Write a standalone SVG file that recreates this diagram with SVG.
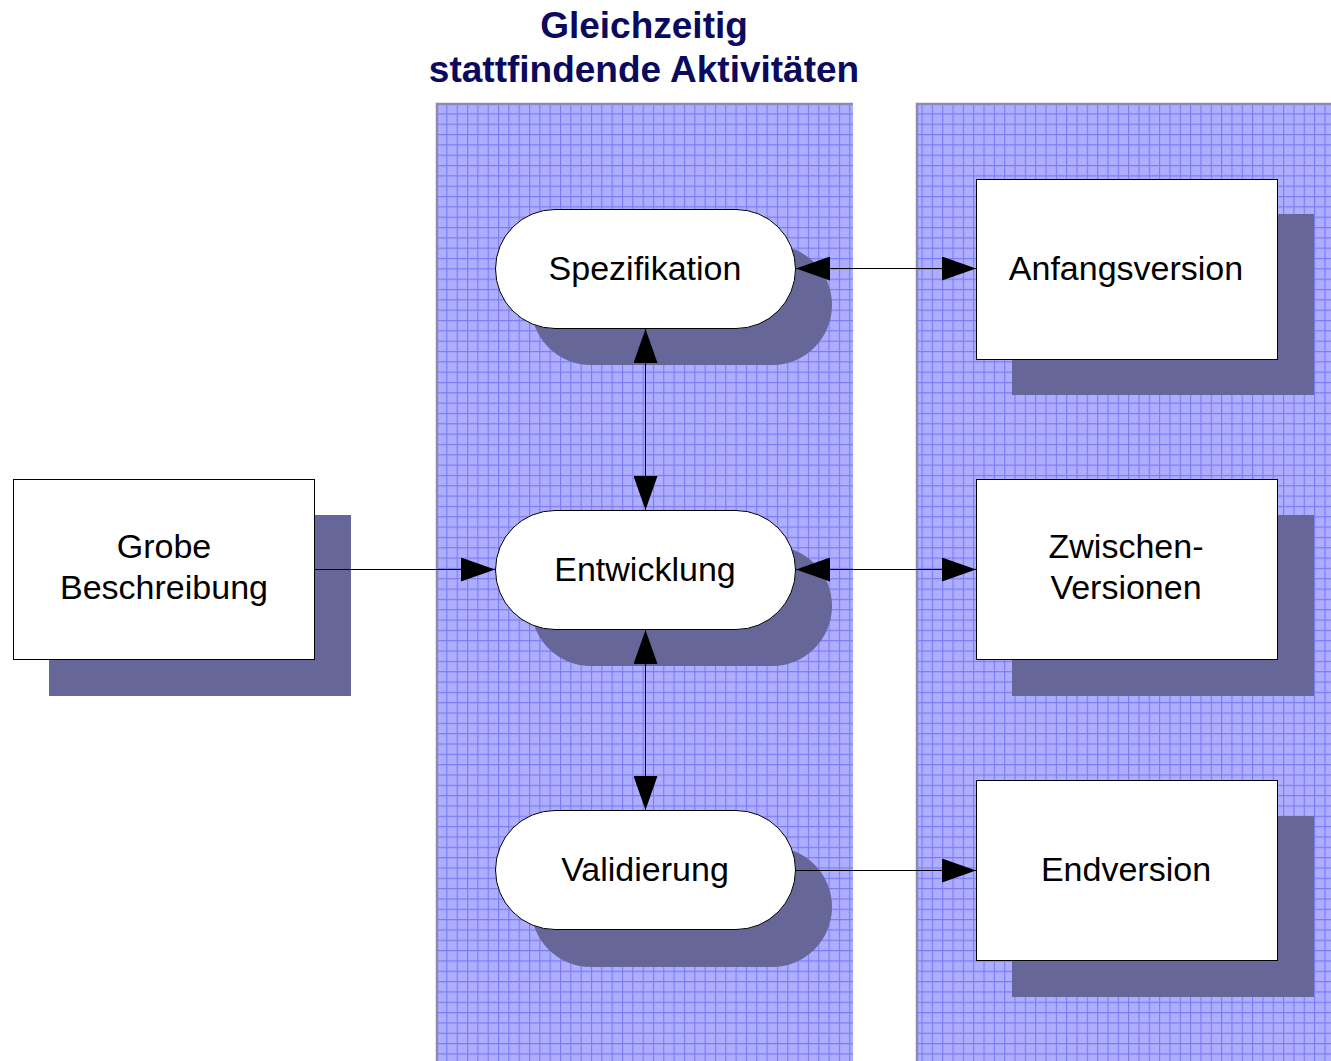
<svg xmlns="http://www.w3.org/2000/svg" width="1331" height="1061" viewBox="0 0 1331 1061">
  <style>
    .lbl { font-family: "Liberation Sans", Arial, sans-serif; font-size: 34px; fill: #000; text-anchor: middle; }
    .title { font-family: "Liberation Sans", Arial, sans-serif; font-size: 37px; font-weight: bold; fill: #0A0A5E; text-anchor: middle; }
    .shadow { fill: #666699; }
    .box { fill: #fff; stroke: #000; stroke-width: 1; }
    .conn { stroke: #000; stroke-width: 1; fill: none; }
    .lane { fill: url(#grid); }
    .laneEdge { stroke: #8A8AB4; stroke-width: 2.5; fill: none; }
  </style>
  <defs>
    <!-- fine checker texture inside each grid cell -->
    <pattern id="fine" width="2.58" height="2.58" patternUnits="userSpaceOnUse">
      <rect width="2.58" height="2.58" fill="#A9A9FF"/>
      <rect width="1.29" height="1.29" fill="#B3B3FF"/>
      <rect x="1.29" y="1.29" width="1.29" height="1.29" fill="#B3B3FF"/>
    </pattern>
    <!-- major grid cell, about 10.33 px -->
    <pattern id="grid" x="436" y="103" width="10.33" height="10.33" patternUnits="userSpaceOnUse">
      <rect width="10.33" height="10.33" fill="url(#fine)"/>
      <path d="M0,0.5 H10.33 M0.5,0 V10.33" stroke="#7A7AF2" stroke-width="1.2" fill="none"/>
    </pattern>
    <marker id="ah" markerWidth="34" markerHeight="24" refX="34" refY="12" orient="auto-start-reverse" markerUnits="userSpaceOnUse">
      <path d="M0,0 L34,12 L0,24 z" fill="#000"/>
    </marker>
  </defs>

  <rect width="1331" height="1061" fill="#fff"/>

  <!-- title -->
  <text class="title" x="644" y="38">Gleichzeitig</text>
  <text class="title" x="644" y="82">stattfindende Aktivitäten</text>

  <!-- swim lanes -->
  <g id="lane-activities">
    <rect class="lane" x="436" y="103" width="417" height="958"/>
    <path class="laneEdge" d="M437,1061 V104 H853"/>
  </g>
  <g id="lane-versions">
    <rect class="lane" x="916" y="103" width="415" height="958"/>
    <path class="laneEdge" d="M917,1061 V104 H1331"/>
  </g>

  <!-- nodes -->
  <g id="grobe-beschreibung">
    <rect class="shadow" x="49" y="515" width="302" height="181"/>
    <rect class="box" x="13.5" y="479.5" width="301" height="180"/>
    <text class="lbl" x="164" y="558">Grobe</text>
    <text class="lbl" x="164" y="599">Beschreibung</text>
  </g>

  <g id="spezifikation">
    <rect class="shadow" x="531" y="245" width="301" height="120" rx="60"/>
    <rect class="box" x="495.5" y="209.5" width="300" height="119" rx="59.5"/>
    <text class="lbl" x="645" y="280">Spezifikation</text>
  </g>

  <g id="entwicklung">
    <rect class="shadow" x="531" y="546" width="301" height="120" rx="60"/>
    <rect class="box" x="495.5" y="510.5" width="300" height="119" rx="59.5"/>
    <text class="lbl" x="645" y="581">Entwicklung</text>
  </g>

  <g id="validierung">
    <rect class="shadow" x="531" y="847" width="301" height="120" rx="60"/>
    <rect class="box" x="495.5" y="810.5" width="300" height="119" rx="59.5"/>
    <text class="lbl" x="645" y="881">Validierung</text>
  </g>

  <g id="anfangsversion">
    <rect class="shadow" x="1012" y="214" width="302" height="181"/>
    <rect class="box" x="976.5" y="179.5" width="301" height="180"/>
    <text class="lbl" x="1126" y="280">Anfangsversion</text>
  </g>

  <g id="zwischenversionen">
    <rect class="shadow" x="1012" y="515" width="302" height="181"/>
    <rect class="box" x="976.5" y="479.5" width="301" height="180"/>
    <text class="lbl" x="1126" y="558">Zwischen-</text>
    <text class="lbl" x="1126" y="599">Versionen</text>
  </g>

  <g id="endversion">
    <rect class="shadow" x="1012" y="816" width="302" height="181"/>
    <rect class="box" x="976.5" y="780.5" width="301" height="180"/>
    <text class="lbl" x="1126" y="881">Endversion</text>
  </g>

  <!-- connectors -->
  <g id="connectors">
    <line class="conn" x1="314" y1="569.5" x2="495" y2="569.5" marker-end="url(#ah)"/>
    <line class="conn" x1="796" y1="268.5" x2="976" y2="268.5" marker-start="url(#ah)" marker-end="url(#ah)"/>
    <line class="conn" x1="796" y1="569.5" x2="976" y2="569.5" marker-start="url(#ah)" marker-end="url(#ah)"/>
    <line class="conn" x1="796" y1="870.5" x2="976" y2="870.5" marker-end="url(#ah)"/>
    <line class="conn" x1="645.5" y1="329" x2="645.5" y2="510" marker-start="url(#ah)" marker-end="url(#ah)"/>
    <line class="conn" x1="645.5" y1="630" x2="645.5" y2="810" marker-start="url(#ah)" marker-end="url(#ah)"/>
  </g>
</svg>
